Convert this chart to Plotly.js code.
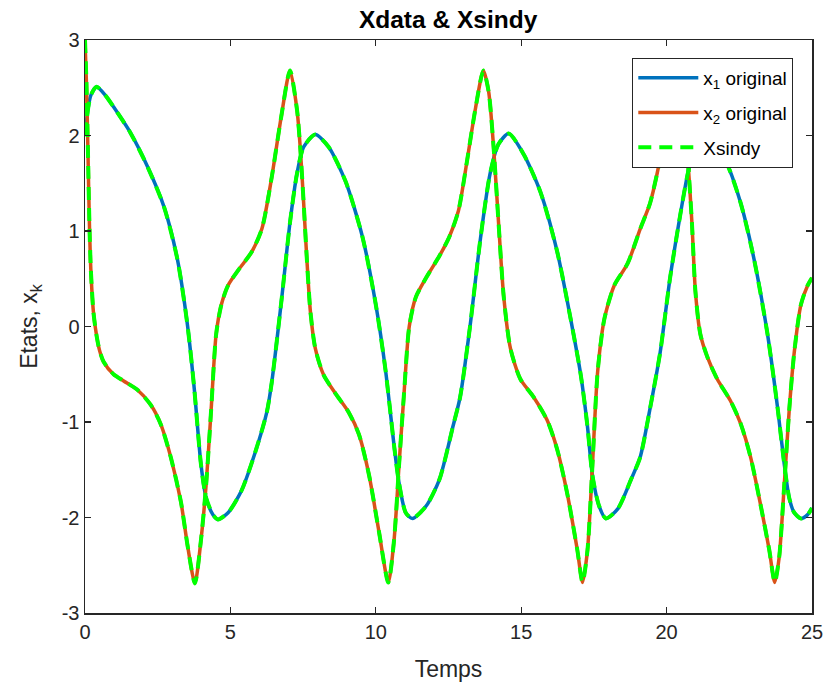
<!DOCTYPE html>
<html>
<head>
<meta charset="utf-8">
<script src="https://cdn.plot.ly/plotly-3.0.1.min.js"></script>
<style>
html,body{margin:0;padding:0;background:#fff;}
#chart{width:826px;height:686px;}
</style>
</head>
<body>
<div id="chart"></div>
<script>
// Time samples and values
const t1 = [0,0.1,0.2,0.4,0.7,0.98,1.56,2.14,2.72,3.18,3.53,3.76,3.99,4.17,4.4,4.57,4.92,5.38,5.84,6.25,6.42,6.77,7.05,7.29,7.52,7.92,8.38,8.96,9.54,10.0,10.34,10.63,10.8,11.03,11.26,11.73,12.19,12.65,12.9,13.24,13.59,13.93,14.22,14.57,15.09,15.66,16.24,16.7,17.05,17.28,17.45,17.68,17.91,18.32,18.78,19.09,19.43,19.78,20.12,20.47,20.7,20.9,21.25,21.65,22.08,22.55,23.01,23.47,23.82,24.05,24.22,24.39,24.62,24.85,25.0];
const x1 = [2.0,2.27,2.42,2.51,2.42,2.30,2.03,1.68,1.25,0.70,0.0,-0.66,-1.45,-1.80,-1.97,-2.02,-1.95,-1.72,-1.33,-0.90,-0.59,0.31,1.09,1.60,1.88,2.01,1.88,1.52,0.94,0.23,-0.47,-1.25,-1.64,-1.95,-2.01,-1.88,-1.60,-1.05,-0.74,0.0,0.90,1.60,1.91,2.02,1.80,1.41,0.78,0.08,-0.51,-1.05,-1.56,-1.88,-2.01,-1.91,-1.60,-1.37,-0.86,-0.27,0.51,1.17,1.56,1.82,2.01,1.90,1.70,1.29,0.70,-0.08,-0.86,-1.45,-1.80,-1.95,-2.01,-1.97,-1.90];

const t2 = [0,0.05,0.1,0.15,0.2,0.29,0.4,0.5,0.64,0.98,1.33,1.79,2.26,2.6,2.95,3.3,3.53,3.78,3.99,4.17,4.34,4.51,4.69,4.92,5.27,5.73,6.08,6.42,6.75,7.05,7.29,7.4,7.52,7.63,7.75,7.92,8.21,8.61,9.07,9.42,9.77,10.11,10.43,10.63,10.8,10.98,11.15,11.38,11.73,12.19,12.53,12.84,13.13,13.42,13.7,13.88,14.05,14.22,14.4,14.63,14.97,15.43,15.89,16.24,16.59,16.93,17.11,17.28,17.45,17.63,17.86,18.2,18.66,19.09,19.43,19.78,20.05,20.35,20.53,20.7,20.87,20.99,21.16,21.39,21.74,22.2,22.55,22.89,23.24,23.53,23.72,23.87,24.05,24.22,24.39,24.62,24.85,25.0];
const x2 = [3.0,2.55,1.85,1.1,0.6,0.15,-0.1,-0.25,-0.37,-0.5,-0.57,-0.66,-0.82,-1.02,-1.37,-1.84,-2.30,-2.69,-2.23,-1.64,-0.86,-0.08,0.23,0.43,0.59,0.78,1.02,1.56,2.2,2.68,2.27,1.88,1.29,0.70,0.16,-0.23,-0.51,-0.70,-0.90,-1.13,-1.56,-2.15,-2.68,-2.23,-1.45,-0.66,0.0,0.31,0.51,0.74,0.94,1.21,1.72,2.27,2.68,2.46,1.88,1.09,0.31,-0.23,-0.55,-0.74,-0.98,-1.29,-1.76,-2.34,-2.68,-2.34,-1.45,-0.47,0.08,0.43,0.66,1.02,1.29,1.76,2.25,2.68,2.46,1.88,1.09,0.37,-0.08,-0.31,-0.55,-0.78,-1.02,-1.37,-1.88,-2.34,-2.68,-2.42,-1.64,-0.86,-0.27,0.23,0.43,0.51];

// SINDy reconstruction (visually coincides with the original data)
const tSindy1 = t1, xSindy1 = x1;
const tSindy2 = t2, xSindy2 = x2;

const legendNames = ['x<sub>1</sub> original', 'x<sub>2</sub> original', 'Xsindy'];
const xTicks = [0,5,10,15,20,25];
const yTicks = [-3,-2,-1,0,1,2,3];

const axisColor = '#262626';
const font = 'Liberation Sans, Arial, sans-serif';

const traces = [
  {x: t1, y: x1, mode: 'lines', name: legendNames[0], legendgroup: 'a',
   line: {color: '#0072BD', width: 3.5, shape: 'spline', smoothing: 0.7}},
  {x: t2, y: x2, mode: 'lines', name: legendNames[1], legendgroup: 'b',
   line: {color: '#D95319', width: 3.5, shape: 'spline', smoothing: 0.7}},
  {x: tSindy1, y: xSindy1, mode: 'lines', name: legendNames[2], legendgroup: 'c',
   line: {color: '#00FF00', width: 4, dash: '13px,8px', shape: 'spline', smoothing: 0.7}},
  {x: tSindy2, y: xSindy2, mode: 'lines', name: legendNames[2], legendgroup: 'c', showlegend: false,
   line: {color: '#00FF00', width: 4, dash: '13px,8px', shape: 'spline', smoothing: 0.7}}
];

const layout = {
  width: 826, height: 686,
  paper_bgcolor: '#ffffff', plot_bgcolor: '#ffffff',
  margin: {l: 85, r: 14, t: 40, b: 73},
  font: {family: font, color: axisColor, size: 20},
  title: {text: '<b>Xdata & Xsindy</b>', font: {family: font, size: 24.5, color: '#000'},
          x: 0.5425, xanchor: 'center', y: 0.972, yanchor: 'middle'},
  xaxis: {range: [0, 25], tickvals: xTicks, ticktext: xTicks.map(String),
          ticks: 'inside', ticklen: 6, tickwidth: 1.2, tickcolor: axisColor,
          showline: true, linecolor: axisColor, linewidth: 1.5, mirror: 'ticks',
          showgrid: false, zeroline: false,
          tickfont: {size: 20, color: axisColor},
          title: {text: 'Temps', font: {size: 23, color: axisColor}, standoff: 19}},
  yaxis: {range: [-3, 3], tickvals: yTicks, ticktext: yTicks.map(String),
          ticks: 'inside', ticklen: 6, tickwidth: 1.2, tickcolor: axisColor,
          showline: true, linecolor: axisColor, linewidth: 1.5, mirror: 'ticks',
          showgrid: false, zeroline: false,
          tickfont: {size: 20, color: axisColor},
          title: {text: 'Etats, x<sub>k</sub>', font: {size: 23, color: axisColor}, standoff: 17}},
  legend: {x: 0.974, xanchor: 'right', y: 0.969, yanchor: 'top',
           bgcolor: '#ffffff', bordercolor: axisColor, borderwidth: 1.2,
           font: {size: 19, color: '#000'}, tracegroupgap: 7, itemwidth: 60},
  showlegend: true
};

Plotly.newPlot('chart', traces, layout, {displayModeBar: false, staticPlot: true});
</script>
</body>
</html>
